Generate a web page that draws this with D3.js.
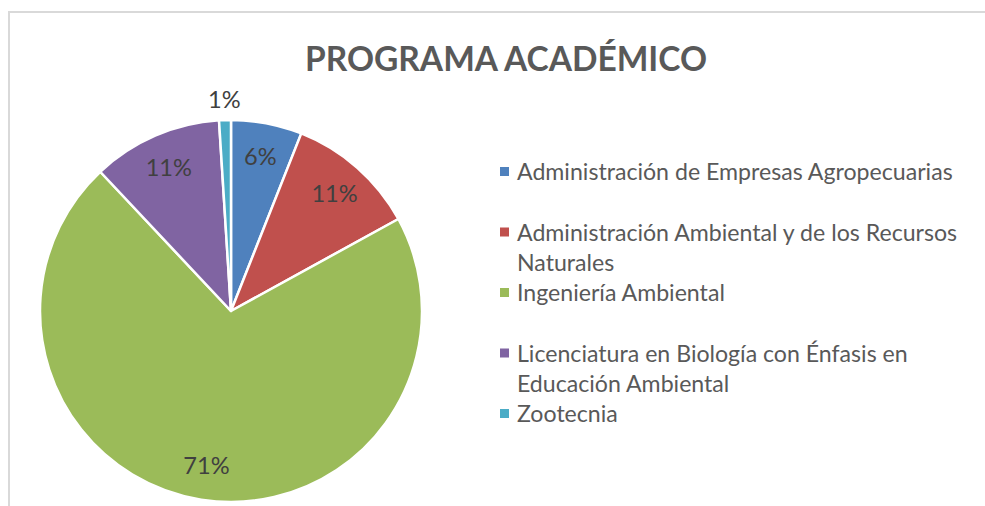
<!DOCTYPE html>
<html>
<head>
<meta charset="utf-8">
<script src="https://cdn.jsdelivr.net/npm/d3@7"></script>
<style>
  body { margin: 0; background: #fff; }
  svg { display: block; font-family: Lato, "Open Sans", sans-serif; }
</style>
</head>
<body>
<svg id="chart" width="985" height="506"></svg>
<script>
// --- Data ---
const categories = [
  "Administración de Empresas Agropecuarias",
  "Administración Ambiental y de los Recursos\nNaturales",
  "Ingeniería Ambiental",
  "Licenciatura en Biología con Énfasis en\nEducación Ambiental",
  "Zootecnia"
];
const values = [6, 11, 71, 11, 1];
const colors = ["#4F81BD", "#C0504D", "#9BBB59", "#8064A2", "#4BACC6"];
const title = "PROGRAMA ACADÉMICO";

// --- Layout ---
const svg = d3.select("#chart");
const cx = 231, cy = 311, radius = 191;

// fit a text node to a given width by adjusting its font size
function fitWidth(sel, target) {
  const w = sel.node().getComputedTextLength();
  const fs = parseFloat(sel.attr("font-size"));
  sel.attr("font-size", fs * target / w);
}

// chart frame
svg.append("rect")
  .attr("x", 9).attr("y", 12)
  .attr("width", 1000).attr("height", 520)
  .attr("fill", "#fff")
  .attr("stroke", "#d9d9d9")
  .attr("stroke-width", 2);

// title
const t = svg.append("text")
  .attr("x", 506).attr("y", 71)
  .attr("text-anchor", "middle")
  .attr("font-size", 30)
  .attr("font-weight", "bold")
  .attr("fill", "#595959")
  .text(title);
fitWidth(t, 402);

// --- Pie ---
const pie = d3.pie().sort(null).value(d => d);
const arcs = pie(values);
const arc = d3.arc().innerRadius(0).outerRadius(radius);
const labelArc = d3.arc().innerRadius(radius * 0.82).outerRadius(radius * 0.82);
const outerArc = d3.arc().innerRadius(radius + 20).outerRadius(radius + 20);

const g = svg.append("g").attr("transform", `translate(${cx},${cy})`);

g.selectAll("path.slice")
  .data(arcs)
  .enter().append("path")
  .attr("class", "slice")
  .attr("d", arc)
  .attr("fill", (d, i) => colors[i])
  .attr("stroke", "#fff")
  .attr("stroke-width", 2.5)
  .attr("stroke-linejoin", "round");

const total = d3.sum(values);
g.selectAll("text.pct")
  .data(arcs)
  .enter().append("text")
  .attr("class", "pct")
  .attr("transform", d => {
    const share = d.data / total;
    const c = share < 0.03 ? outerArc.centroid(d) : labelArc.centroid(d);
    return `translate(${c[0]},${c[1]})`;
  })
  .attr("text-anchor", "middle")
  .attr("dy", "0.35em")
  .attr("font-size", 22)
  .attr("fill", "#404040")
  .text(d => Math.round(d.data / total * 100) + "%");

// --- Legend ---
const legendX = 500, legendY = 172, entryStep = 60.5, lineStep = 30.5;
const legend = svg.append("g");
const entries = legend.selectAll("g.entry")
  .data(categories)
  .enter().append("g")
  .attr("class", "entry")
  .attr("transform", (d, i) => `translate(${legendX},${legendY + i * entryStep})`);

entries.append("rect")
  .attr("x", 0).attr("y", -5)
  .attr("width", 9).attr("height", 9)
  .attr("fill", (d, i) => colors[i]);

const legendText = entries.append("text")
  .attr("x", 17)
  .attr("font-size", 22)
  .attr("fill", "#595959");

legendText.selectAll("tspan")
  .data(d => d.split("\n"))
  .enter().append("tspan")
  .attr("x", 17)
  .attr("y", (d, i) => i * lineStep)
  .attr("dy", "0.35em")
  .text(d => d);

// scale legend font so the first entry spans the same width as the reference
const firstSpan = legendText.filter((d, i) => i === 0).select("tspan");
const w0 = firstSpan.node().getComputedTextLength();
const fs = 22 * 436 / w0;
legendText.attr("font-size", fs);
svg.selectAll("text.pct").attr("font-size", fs * 1.02);
</script>
</body>
</html>
